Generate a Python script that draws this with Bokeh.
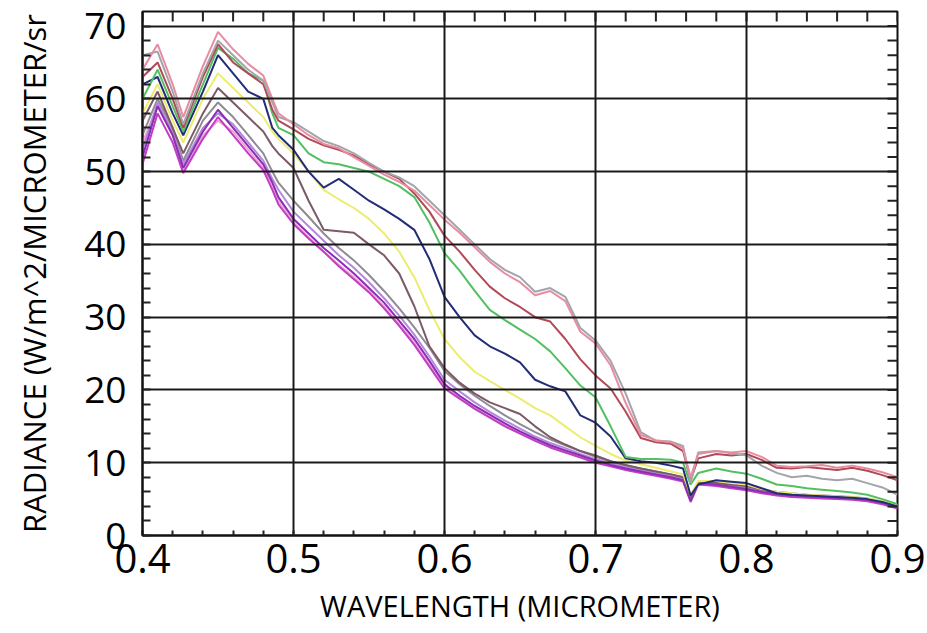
from math import pi
from bokeh.plotting import figure
from bokeh.models import Range1d, FixedTicker
from bokeh.embed import file_html
from bokeh.resources import INLINE

WAVELENGTH = [0.400, 0.410, 0.420, 0.427, 0.440, 0.450, 0.460, 0.470, 0.480, 0.486, 0.490,
              0.500, 0.510, 0.520, 0.530, 0.540, 0.550, 0.560, 0.570, 0.580, 0.590,
              0.600, 0.610, 0.620, 0.630, 0.640, 0.650, 0.660, 0.670, 0.680, 0.690,
              0.700, 0.710, 0.720, 0.730, 0.740, 0.750, 0.758, 0.763, 0.768,
              0.780, 0.790, 0.800, 0.810, 0.820, 0.830, 0.840, 0.850, 0.860, 0.870, 0.880, 0.890, 0.900]

lower_pink = [54.0, 59.0, 55.0, 50.0, 55.0, 57.0, 55.5, 53.0, 50.5, 48.0, 46.0, 43.0, 41.0, 39.0, 37.2, 35.5, 33.6, 31.5, 29.0, 26.5, 23.5,
              20.5, 19.0, 17.6, 16.4, 15.2, 14.2, 13.2, 12.3, 11.6, 10.9, 10.2, 9.6, 9.1, 8.7, 8.3, 7.9, 7.5, 4.9, 7.1,
              6.9, 6.6, 6.3, 5.9, 5.6, 5.4, 5.3, 5.2, 5.1, 5.0, 4.8, 4.4, 3.8]
lower_gray = [55.0, 60.0, 56.0, 51.5, 57.0, 59.5, 57.5, 55.0, 52.5, 50.0, 48.5, 46.0, 43.8, 41.5, 39.5, 37.8, 35.8, 33.6, 31.2, 28.6, 25.8,
              22.6, 20.8, 19.2, 17.8, 16.5, 15.3, 14.2, 13.2, 12.4, 11.6, 10.8, 10.2, 9.6, 9.2, 8.8, 8.4, 8.0, 5.0, 7.4,
              7.2, 7.0, 6.7, 6.3, 6.0, 5.8, 5.6, 5.5, 5.4, 5.3, 5.1, 4.7, 4.1]
lavender = [53.0, 59.5, 55.5, 51.0, 56.0, 58.0, 56.5, 54.0, 51.5, 49.0, 47.5, 44.5, 42.5, 40.5, 38.5, 36.8, 34.8, 32.6, 30.2, 27.6, 24.6,
            21.4, 19.8, 18.3, 17.0, 15.8, 14.7, 13.6, 12.7, 12.0, 11.2, 10.5, 9.9, 9.4, 9.0, 8.6, 8.2, 7.8, 5.0, 7.3,
            7.1, 6.9, 6.6, 6.2, 5.9, 5.7, 5.6, 5.5, 5.4, 5.2, 5.0, 4.6, 4.0]
magenta = [51.0, 58.0, 54.0, 49.8, 54.5, 57.5, 55.0, 52.5, 50.2, 47.5, 45.5, 42.8, 40.8, 39.0, 37.0, 35.2, 33.4, 31.2, 28.8, 26.2, 23.2,
           20.2, 18.8, 17.4, 16.2, 15.0, 14.0, 13.0, 12.1, 11.4, 10.7, 10.0, 9.5, 9.0, 8.6, 8.2, 7.8, 7.4, 4.6, 7.0,
           6.8, 6.5, 6.2, 5.8, 5.5, 5.3, 5.2, 5.1, 5.0, 4.9, 4.7, 4.3, 3.7]
purple = [52.0, 59.0, 55.0, 50.5, 55.5, 58.5, 56.0, 53.5, 51.0, 48.5, 46.5, 43.5, 41.5, 39.5, 37.8, 36.0, 34.0, 32.0, 29.5, 27.0, 24.0,
          20.8, 19.2, 17.8, 16.6, 15.4, 14.3, 13.3, 12.4, 11.7, 11.0, 10.3, 9.7, 9.2, 8.8, 8.4, 8.0, 7.6, 4.8, 7.2,
          7.0, 6.7, 6.4, 6.0, 5.7, 5.5, 5.4, 5.3, 5.2, 5.1, 4.9, 4.5, 3.9]
brown_mid = [57.0, 61.0, 56.0, 52.5, 58.0, 61.5, 59.5, 57.5, 55.5, 53.5, 52.5, 50.5, 46.0, 42.0, 41.8, 41.6, 40.0, 38.5, 36.0, 31.5, 26.0,
             23.0, 21.0, 19.5, 18.3, 17.5, 16.7, 15.0, 13.5, 12.5, 11.6, 11.0, 10.2, 9.7, 9.2, 8.8, 8.4, 8.0, 5.2, 7.3,
             7.2, 7.0, 6.8, 6.3, 5.9, 5.7, 5.5, 5.4, 5.4, 5.2, 5.0, 4.6, 4.0]
yellow = [58.0, 62.0, 57.0, 54.0, 60.0, 63.5, 61.5, 59.5, 57.5, 55.5, 54.5, 52.5, 50.0, 47.5, 46.2, 45.0, 43.5, 41.5, 39.0, 35.5, 31.0,
          27.0, 24.5, 22.5, 21.2, 20.0, 18.8, 17.5, 16.5, 15.0, 13.5, 12.3, 11.2, 10.3, 9.8, 9.3, 8.8, 8.4, 5.6, 7.5,
          7.5, 7.2, 7.0, 6.4, 6.0, 5.8, 5.6, 5.5, 5.4, 5.3, 5.1, 4.8, 4.2]
navy = [62.0, 63.0, 58.0, 55.0, 61.0, 66.0, 63.5, 61.0, 60.0, 56.0, 55.0, 53.0, 50.0, 47.8, 49.0, 47.5, 46.0, 44.8, 43.5, 42.0, 38.0,
        32.8, 30.0, 27.5, 26.0, 25.0, 23.8, 21.4, 20.5, 19.8, 16.5, 15.5, 13.6, 10.6, 10.2, 10.0, 9.6, 9.2, 5.5, 7.0,
        7.6, 7.4, 7.2, 6.5, 5.8, 5.6, 5.5, 5.4, 5.3, 5.2, 5.0, 4.6, 4.0]
green = [60.0, 64.0, 59.0, 55.5, 62.0, 67.0, 65.5, 63.5, 62.5, 58.0, 56.0, 55.0, 52.5, 51.3, 51.0, 50.5, 50.0, 49.0, 48.0, 46.5, 43.0,
         38.8, 36.4, 33.6, 31.0, 29.6, 28.3, 27.0, 25.3, 23.0, 20.6, 19.0, 15.0, 10.8, 10.5, 10.5, 10.4, 10.0, 7.0, 8.6,
         9.2, 8.8, 8.5, 7.8, 7.0, 6.8, 6.5, 6.3, 6.1, 5.9, 5.6, 5.0, 4.3]
red = [63.0, 65.0, 60.0, 56.0, 63.0, 67.5, 65.0, 63.5, 62.0, 58.5, 57.0, 55.8, 54.5, 53.6, 53.0, 52.2, 51.0, 50.0, 49.0, 47.0, 44.5,
       41.2, 39.0, 36.5, 34.2, 32.6, 31.4, 30.0, 29.4, 27.0, 24.2, 22.0, 20.2, 17.0, 13.4, 12.8, 12.6, 11.6, 7.6, 10.6,
       11.2, 11.0, 11.2, 10.4, 9.3, 9.2, 9.4, 9.2, 9.0, 9.3, 8.9, 8.3, 7.6]
gray_top = [66.0, 66.5, 61.0, 56.5, 63.5, 68.0, 66.0, 64.0, 62.5, 59.5, 57.5, 56.8, 55.5, 54.2, 53.5, 52.5, 51.2, 50.0, 49.2, 48.0, 46.0,
            44.0, 42.0, 40.0, 38.0, 36.5, 35.5, 33.5, 34.0, 32.8, 28.5, 26.8, 24.0, 19.5, 14.2, 13.0, 12.9, 12.3, 7.2, 11.4,
            11.6, 11.3, 11.0, 9.6, 8.6, 8.0, 8.2, 7.8, 7.6, 7.8, 7.2, 6.6, 5.6]
pink_top = [64.0, 67.5, 62.0, 57.5, 64.5, 69.2, 66.8, 64.8, 63.2, 60.0, 58.0, 56.5, 55.0, 53.8, 53.2, 52.0, 50.8, 49.6, 48.6, 47.4, 45.4,
            43.4, 41.6, 39.6, 37.6, 36.0, 34.8, 33.0, 33.6, 32.2, 28.0, 26.4, 23.4, 18.2, 13.8, 13.1, 12.8, 12.0, 8.0, 11.2,
            11.6, 11.4, 11.6, 10.8, 9.6, 9.4, 9.5, 9.7, 9.3, 9.6, 9.2, 8.7, 8.0]

SERIES = [
    (lower_pink, "#f2a6d2"),
    (lower_gray, "#8f8a94"),
    (lavender, "#b488dc"),
    (magenta, "#c23cc8"),
    (purple, "#8a2eb4"),
    (brown_mid, "#7c5a66"),
    (yellow, "#ecec70"),
    (navy, "#232c78"),
    (green, "#52c062"),
    (red, "#b04a58"),
    (gray_top, "#a4a4ac"),
    (pink_top, "#e88ca0"),
]

X_TICKS = [0.4, 0.5, 0.6, 0.7, 0.8, 0.9]
X_MINOR = [0.40, 0.42, 0.44, 0.46, 0.48, 0.50, 0.52, 0.54, 0.56, 0.58, 0.60, 0.62, 0.64, 0.66, 0.68,
           0.70, 0.72, 0.74, 0.76, 0.78, 0.80, 0.82, 0.84, 0.86, 0.88, 0.90]
Y_TICKS = [0, 10, 20, 30, 40, 50, 60, 70]
Y_MINOR = list(range(0, 72, 2))
X_TITLE = "WAVELENGTH (MICROMETER)"
Y_TITLE = "RADIANCE (W/m^2/MICROMETER/sr"

X_LO, X_HI = 0.4, 0.9
Y_LO, Y_HI = 0.0, 72.0

p = figure(width=927, height=633, x_range=Range1d(X_LO, X_HI), y_range=Range1d(Y_LO, Y_HI),
           output_backend="svg", toolbar_location=None,
           min_border_left=142, min_border_right=30, min_border_top=11, min_border_bottom=98)
p.background_fill_color = "white"
p.border_fill_color = "white"
p.outline_line_color = "#111111"
p.outline_line_width = 2

for vals, col in SERIES:
    p.line(WAVELENGTH, vals, line_color=col, line_width=2)

# inward tick marks along the top and right edges of the frame (clipped to the frame)
p.scatter(X_MINOR, [Y_HI] * len(X_MINOR), marker="dash", angle=pi / 2, size=20,
          line_color="#222222", line_width=2)
p.scatter([X_HI] * len(Y_MINOR), Y_MINOR, marker="dash", size=20,
          line_color="#222222", line_width=2)

xt = FixedTicker(ticks=X_TICKS, minor_ticks=X_MINOR)
yt = FixedTicker(ticks=Y_TICKS, minor_ticks=Y_MINOR)

p.xgrid.ticker = FixedTicker(ticks=[0.5, 0.6, 0.7, 0.8])
p.ygrid.ticker = FixedTicker(ticks=[10, 20, 30, 40, 50, 60, 70])
for g in (p.xgrid, p.ygrid):
    g.grid_line_color = "#1a1a1a"
    g.grid_line_width = 2
    g.level = "glyph"

xa = p.xaxis[0]
xa.ticker = xt
xa.axis_label = X_TITLE
ya = p.yaxis[0]
ya.ticker = yt
ya.axis_label = Y_TITLE

for ax in (xa, ya):
    ax.axis_line_color = "#111111"
    ax.axis_line_width = 2
    ax.major_tick_in = 0
    ax.major_tick_out = 0
    ax.minor_tick_in = 8
    ax.minor_tick_out = 0
    ax.minor_tick_line_color = "#222222"
    ax.minor_tick_line_width = 2
    ax.major_label_text_color = "black"
    ax.axis_label_text_color = "black"
    ax.axis_label_text_font_style = "normal"
    ax.major_label_text_font = "Open Sans"
    ax.axis_label_text_font = "Open Sans"

xa.major_label_text_font_size = "40px"
xa.major_label_standoff = 8
xa.axis_label_text_font_size = "29px"
xa.axis_label_standoff = 10
xa.minor_tick_in = 5

ya.major_label_text_font_size = "37px"
ya.major_label_standoff = 16
ya.axis_label_text_font_size = "31px"
ya.axis_label_standoff = 26

open("out.html", "w").write(file_html(p, INLINE))
